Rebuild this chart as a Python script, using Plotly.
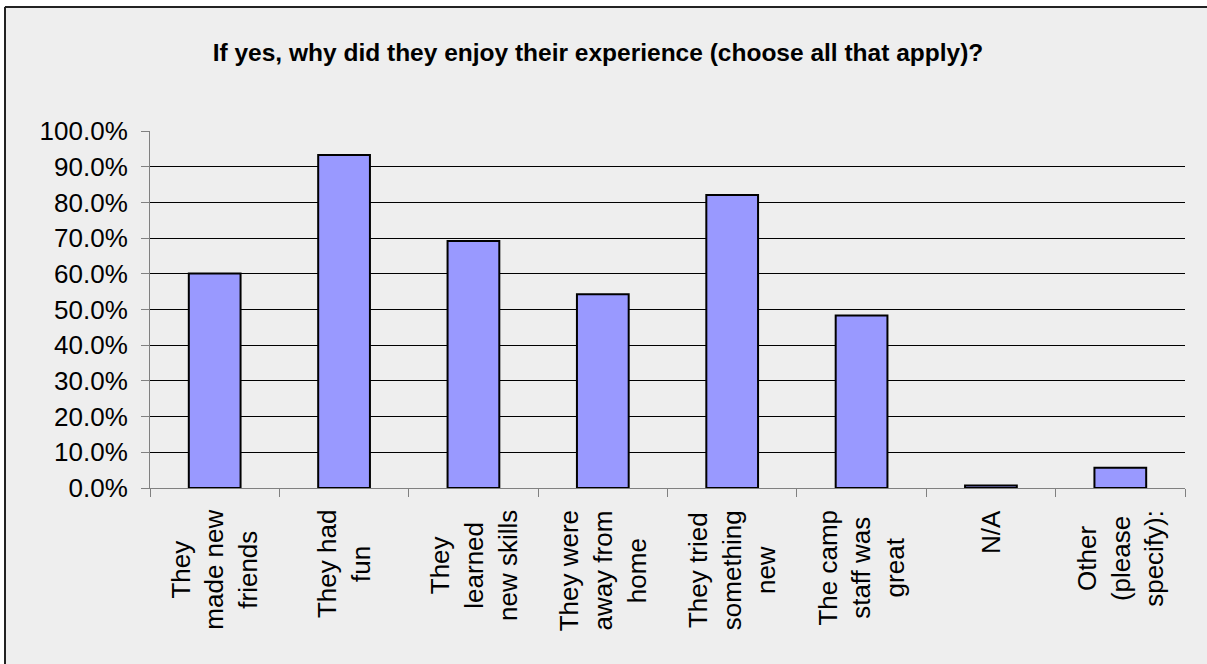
import plotly.graph_objects as go

categories = [
    "They made new friends",
    "They had fun",
    "They learned new skills",
    "They were away from home",
    "They tried something new",
    "The camp staff was great",
    "N/A",
    "Other (please specify):",
]
label_lines = [
    "They<br>made new<br>friends",
    "They had<br>fun",
    "They<br>learned<br>new skills",
    "They were<br>away from<br>home",
    "They tried<br>something<br>new",
    "The camp<br>staff was<br>great",
    "N/A",
    "Other<br>(please<br>specify):",
]
values = [0.601, 0.933, 0.692, 0.543, 0.821, 0.483, 0.007, 0.057]
y_ticks = [i / 10 for i in range(11)]
title_text = "If yes, why did they enjoy their experience (choose all that apply)?"

FONT = "Arial, 'Liberation Sans', sans-serif"
W, H = 1207, 664
L, R, T, B = 150, 22, 131, 176

fig = go.Figure()
fig.add_trace(go.Bar(
    x=categories, y=values,
    marker=dict(color="#9999FF", line=dict(color="#000000", width=2)),
    width=0.4,
))

# outer frame (chart cropped at right/bottom): white strips left/top + border lines
px = lambda v: (v - L) / (W - L - R)
py = lambda v: (H - B - v) / (H - T - B)
fig.add_shape(type="rect", xref="paper", yref="paper",
              x0=px(-20), x1=px(4), y0=py(700), y1=py(-20),
              line=dict(width=0), fillcolor="#FFFFFF", layer="below")
fig.add_shape(type="rect", xref="paper", yref="paper",
              x0=px(-20), x1=px(1300), y0=py(6), y1=py(-20),
              line=dict(width=0), fillcolor="#FFFFFF", layer="below")
fig.add_shape(type="line", xref="paper", yref="paper",
              x0=px(5), x1=px(5), y0=py(700), y1=py(7),
              line=dict(color="#222222", width=2), layer="below")
fig.add_shape(type="line", xref="paper", yref="paper",
              x0=px(5), x1=px(1300), y0=py(7), y1=py(7),
              line=dict(color="#222222", width=2), layer="below")

for c, t in zip(categories, label_lines):
    fig.add_annotation(x=c, xref="x", y=py(508), yref="paper", text=t,
                       textangle=-90, showarrow=False, align="center",
                       xanchor="center", yanchor="top",
                       font=dict(family=FONT, size=26, color="#000000"))

fig.update_layout(
    width=W, height=H,
    margin=dict(l=L, r=R, t=T, b=B, pad=0),
    paper_bgcolor="#EEEEEE", plot_bgcolor="rgba(0,0,0,0)",
    showlegend=False,
    title=dict(text="<b>" + title_text + "</b>", x=598 / W, xanchor="center",
               y=1 - 52 / H, yanchor="middle",
               font=dict(family=FONT, size=24.5, color="#000000")),
    font=dict(family=FONT, color="#000000"),
    bargap=0.6,
)
fig.update_xaxes(showticklabels=False, ticks="outside", tickson="boundaries",
                 ticklen=8, tickcolor="#808080", tickwidth=1,
                 showline=True, linecolor="#808080", linewidth=1,
                 showgrid=False, zeroline=False)
fig.update_yaxes(range=[0, 1], tickvals=y_ticks, tickformat=".1%",
                 ticks="outside", ticklen=8, tickcolor="#808080",
                 showline=True, linecolor="#808080", linewidth=1,
                 showgrid=True, gridcolor="#000000", gridwidth=1,
                 zeroline=False, ticklabelstandoff=8,
                 tickfont=dict(family=FONT, size=26, color="#000000"))

fig.write_html("out.html", config={"displayModeBar": False},
               post_script="document.documentElement.style.overflow='hidden';document.body.style.margin='0';document.body.style.overflow='hidden';")
